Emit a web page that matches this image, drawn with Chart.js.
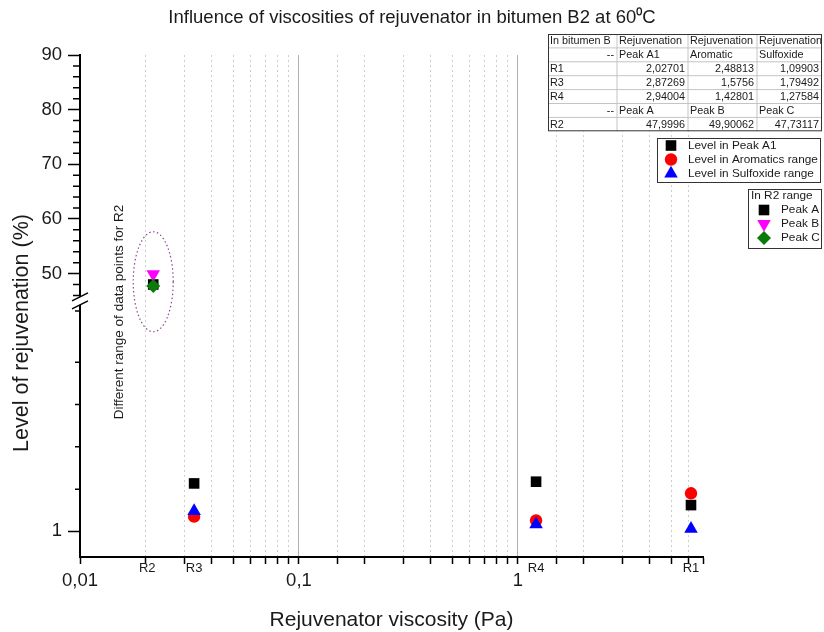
<!DOCTYPE html>
<html>
<head>
<meta charset="utf-8">
<title>Influence of viscosities of rejuvenator in bitumen B2</title>
<script src="https://cdn.jsdelivr.net/npm/chart.js@4.4.1/dist/chart.umd.min.js"></script>
<style>
  html, body { margin: 0; padding: 0; background: #fff; }
  canvas { display: block; }
</style>
</head>
<body>
<canvas id="chart" width="824" height="632"></canvas>
<script>
// R1, R3, R4 -> lower part of the broken y axis
const rejuvenators = ['R1', 'R3', 'R4'];
const viscosities = [6.17, 0.0332, 1.21];
const levelPeakA1 = [2.02701, 2.87269, 2.94004];
const levelAromatic = [2.48813, 1.5756, 1.42801];
const levelSulfoxide = [1.09903, 1.79492, 1.27584];

// R2 -> upper part of the y axis
const r2Name = 'R2';
const r2Viscosity = 0.0216;
const r2PeakNames = ['Peak A', 'Peak B', 'Peak C'];
const r2Peaks = [47.9996, 49.90062, 47.73117];

// ticks
const xTickValues = [0.01, 0.1, 1];
const xTickLabels = ['0,01', '0,1', '1'];
const yHighTicks = [50, 60, 70, 80, 90];
const yHighMinor = [46, 48, 52, 54, 56, 58, 62, 64, 66, 68, 72, 74, 76, 78, 82, 84, 86, 88];
const yLowTicks = [1];
const yLowMinor = [2.65, 4.3, 5.95, 7.6, 9.6];

const FONT = '"Liberation Sans", Arial, sans-serif';

function xMajorIndex(v) {
    return xTickValues.findIndex(t => Math.abs(t - v) < t * 1e-6);
}
function fmt(v) {
    return String(v).replace('.', ',');
}

const lowPoints = arr => rejuvenators.map((r, i) => ({ x: viscosities[i], y: arr[i] }));

const datasets = [
    { label: 'Level in Peak A1', data: lowPoints(levelPeakA1), yAxisID: 'yLow', pointStyle: 'rect', pointRadius: 7.5, pointBackgroundColor: '#000', order: 3 },
    { label: 'Level in Aromatics range', data: lowPoints(levelAromatic), yAxisID: 'yLow', pointStyle: 'circle', pointRadius: 6.2, pointBackgroundColor: '#ff0000', order: 2 },
    { label: 'Level in Sulfoxide range', data: lowPoints(levelSulfoxide), yAxisID: 'yLow', pointStyle: 'triangle', pointRadius: 7.8, pointBackgroundColor: '#0000ff', order: 1 },
    { label: r2PeakNames[0], data: [{ x: r2Viscosity, y: r2Peaks[0] }], yAxisID: 'yHigh', pointStyle: 'rect', pointRadius: 7.5, pointBackgroundColor: '#000', order: 3 },
    { label: r2PeakNames[1], data: [{ x: r2Viscosity, y: r2Peaks[1] }], yAxisID: 'yHigh', pointStyle: 'triangle', pointRotation: 180, pointRadius: 7.8, pointBackgroundColor: '#ff00ff', order: 2 },
    { label: r2PeakNames[2], data: [{ x: r2Viscosity, y: r2Peaks[2] }], yAxisID: 'yHigh', pointStyle: 'rectRot', pointRadius: 7, pointBackgroundColor: '#0a7a0a', order: 1 }
];
datasets.forEach(d => { d.pointBorderWidth = 0; d.showLine = false; });

function drawMarker(ctx, style, color, radius, rotation, x, y) {
    ctx.save();
    ctx.fillStyle = color;
    Chart.helpers.drawPoint(ctx, { pointStyle: style, radius: radius, rotation: rotation || 0, borderWidth: 0 }, x, y);
    ctx.restore();
}

function text(ctx, str, x, y, size, align) {
    ctx.font = size + 'px ' + FONT;
    ctx.textAlign = align || 'left';
    ctx.textBaseline = 'middle';
    ctx.fillText(str, x, y);
}

const decor = {
    id: 'decor',
    afterDraw(chart) {
        const ctx = chart.ctx;
        const xs = chart.scales.x, hi = chart.scales.yHigh, lo = chart.scales.yLow;
        const axisX = chart.chartArea.left;
        ctx.save();
        ctx.fillStyle = '#1a1a1a';
        ctx.strokeStyle = '#000';

        // minor ticks on the y axis
        ctx.lineWidth = 1.5;
        ctx.beginPath();
        yHighMinor.forEach(v => { const y = hi.getPixelForValue(v); ctx.moveTo(axisX - 7, y); ctx.lineTo(axisX, y); });
        yLowMinor.forEach(v => { const y = lo.getPixelForValue(v); ctx.moveTo(axisX - 5, y); ctx.lineTo(axisX, y); });
        ctx.stroke();

        // axis break
        const yb = hi.bottom;
        ctx.fillStyle = '#fff';
        ctx.fillRect(axisX - 3, yb - 4, 6, 8);
        ctx.lineWidth = 1.5;
        ctx.beginPath();
        [-4, 4].forEach(d => { ctx.moveTo(axisX - 8, yb + d + 4); ctx.lineTo(axisX + 8, yb + d - 4); });
        ctx.stroke();

        // rejuvenator names under the x axis
        ctx.fillStyle = '#1a1a1a';
        rejuvenators.forEach((r, i) => text(ctx, r, xs.getPixelForValue(viscosities[i]), chart.chartArea.bottom + 11, 13, 'center'));
        text(ctx, r2Name, xs.getPixelForValue(r2Viscosity) - 6, chart.chartArea.bottom + 11, 13, 'center');

        // ellipse around R2 + note
        const cx = xs.getPixelForValue(r2Viscosity);
        const cy = hi.getPixelForValue(48.5);
        ctx.strokeStyle = '#8a4a8a';
        ctx.lineWidth = 1.2;
        ctx.setLineDash([1.5, 2.5]);
        ctx.beginPath();
        ctx.ellipse(cx, cy, 20, 50, 0, 0, Math.PI * 2);
        ctx.stroke();
        ctx.setLineDash([]);
        ctx.save();
        ctx.translate(cx - 34, 312);
        ctx.rotate(-Math.PI / 2);
        text(ctx, 'Different range of data points for ' + r2Name, 0, 0, 13.5, 'center');
        ctx.restore();

        // titles
        text(ctx, 'Influence of viscosities of rejuvenator in bitumen B2 at 60\u2070C', 412, 18, 18.5, 'center');
        text(ctx, 'Rejuvenator viscosity (Pa)', (chart.chartArea.left + chart.chartArea.right) / 2, 620, 21, 'center');
        ctx.save();
        ctx.translate(22, 333);
        ctx.rotate(-Math.PI / 2);
        text(ctx, 'Level of rejuvenation (%)', 0, 0, 21.5, 'center');
        ctx.restore();

        // table
        const cols = [548, 617, 688, 757, 822];
        const tTop = 34, rowH = 13.9;
        const rows = [
            ['In bitumen B', 'Rejuvenation', 'Rejuvenation', 'Rejuvenation'],
            ['--', 'Peak A1', 'Aromatic', 'Sulfoxide']
        ];
        rejuvenators.forEach((r, i) => rows.push([r, fmt(levelPeakA1[i]), fmt(levelAromatic[i]), fmt(levelSulfoxide[i])]));
        rows.push(['--'].concat(r2PeakNames));
        rows.push([r2Name].concat(r2Peaks.map(fmt)));
        const tBottom = tTop + rows.length * rowH;
        ctx.fillStyle = '#fff';
        ctx.fillRect(cols[0], tTop, cols[4] - cols[0], tBottom - tTop);
        ctx.strokeStyle = '#c4c4c4';
        ctx.lineWidth = 1;
        ctx.beginPath();
        for (let r = 1; r < rows.length; r++) { ctx.moveTo(cols[0], tTop + r * rowH); ctx.lineTo(cols[4], tTop + r * rowH); }
        for (let c = 1; c < 4; c++) { ctx.moveTo(cols[c], tTop); ctx.lineTo(cols[c], tBottom); }
        ctx.stroke();
        ctx.strokeStyle = '#333';
        ctx.strokeRect(cols[0] + 0.5, tTop + 0.5, cols[4] - cols[0] - 1, tBottom - tTop - 1);
        ctx.fillStyle = '#1a1a1a';
        rows.forEach((row, r) => {
            const y = tTop + r * rowH + rowH / 2 + 0.5;
            row.forEach((cell, c) => {
                let align = 'left';
                if (r > 0 && row[0] === '--') align = c === 0 ? 'right' : 'left';
                else if (r > 0 && c > 0) align = 'right';
                const x = align === 'right' ? cols[c + 1] - 3 : cols[c] + 2;
                text(ctx, cell, x, y, 10.8, align);
            });
        });

        // legend 1
        const l1 = { x: 657, y: 138, w: 163, h: 44 };
        ctx.fillStyle = '#fff';
        ctx.fillRect(l1.x, l1.y, l1.w, l1.h);
        ctx.strokeStyle = '#333';
        ctx.strokeRect(l1.x + 0.5, l1.y + 0.5, l1.w, l1.h);
        [0, 1, 2].forEach(i => {
            const d = datasets[i], y = l1.y + 7.5 + i * 14;
            drawMarker(ctx, d.pointStyle, d.pointBackgroundColor, d.pointRadius, d.pointRotation, l1.x + 14, y);
            ctx.fillStyle = '#1a1a1a';
            text(ctx, d.label, l1.x + 31, y, 11.8);
        });

        // legend 2
        const l2 = { x: 748, y: 189, w: 73, h: 59 };
        ctx.fillStyle = '#fff';
        ctx.fillRect(l2.x, l2.y, l2.w, l2.h);
        ctx.strokeStyle = '#333';
        ctx.strokeRect(l2.x + 0.5, l2.y + 0.5, l2.w, l2.h);
        ctx.fillStyle = '#1a1a1a';
        text(ctx, 'In ' + r2Name + ' range', l2.x + 3, l2.y + 7, 11.8);
        [3, 4, 5].forEach((k, i) => {
            const d = datasets[k], y = l2.y + 21 + i * 14;
            drawMarker(ctx, d.pointStyle, d.pointBackgroundColor, d.pointRadius, d.pointRotation, l2.x + 16, y);
            ctx.fillStyle = '#1a1a1a';
            text(ctx, d.label, l2.x + 33, y, 11.8);
        });

        ctx.restore();
    }
};

const tickFont = { size: 18.5, family: FONT };

new Chart(document.getElementById('chart').getContext('2d'), {
    type: 'scatter',
    data: { datasets: datasets },
    plugins: [decor],
    options: {
        responsive: false,
        animation: false,
        events: [],
        layout: { padding: { top: 55, right: 121, bottom: 0, left: 0 } },
        plugins: { legend: { display: false }, title: { display: false }, tooltip: { enabled: false } },
        scales: {
            x: {
                type: 'logarithmic',
                min: 0.01,
                max: 7,
                afterFit: s => { s.height = 75; },
                border: {
                    color: '#000', width: 2,
                    dash: c => (c.tick && xMajorIndex(c.tick.value) < 0) ? [2, 3] : []
                },
                grid: {
                    color: c => {
                        if (!c.tick || c.tick.value >= 7) return 'rgba(0,0,0,0)';
                        return xMajorIndex(c.tick.value) >= 0 ? '#b0b0b0' : '#cdcdcd';
                    },
                    lineWidth: 1,
                    tickLength: 7,
                    tickColor: '#000',
                    tickWidth: 1.5
                },
                ticks: {
                    autoSkip: false,
                    maxRotation: 0,
                    padding: 6,
                    color: '#1a1a1a',
                    font: tickFont,
                    callback: v => { const i = xMajorIndex(v); return i >= 0 ? xTickLabels[i] : ''; }
                }
            },
            yLow: {
                type: 'linear',
                position: 'left',
                stack: 'left',
                stackWeight: 1,
                weight: 1,
                min: 0,
                max: 10,
                afterFit: s => { s.width = 80; },
                afterBuildTicks: s => { s.ticks = yLowTicks.map(v => ({ value: v })); },
                border: { color: '#000', width: 2 },
                grid: { drawOnChartArea: false, tickLength: 12, tickColor: '#000', tickWidth: 1.5 },
                ticks: { padding: 6, color: '#1a1a1a', font: tickFont, callback: v => String(v) }
            },
            yHigh: {
                type: 'linear',
                position: 'left',
                stack: 'left',
                stackWeight: 0.96,
                weight: 2,
                min: 45,
                max: 90,
                afterFit: s => { s.width = 80; },
                afterBuildTicks: s => { s.ticks = yHighTicks.map(v => ({ value: v })); },
                border: { color: '#000', width: 2 },
                grid: { drawOnChartArea: false, tickLength: 12, tickColor: '#000', tickWidth: 1.5 },
                ticks: { padding: 6, color: '#1a1a1a', font: tickFont, callback: v => String(v) }
            }
        }
    }
});
</script>
</body>
</html>
